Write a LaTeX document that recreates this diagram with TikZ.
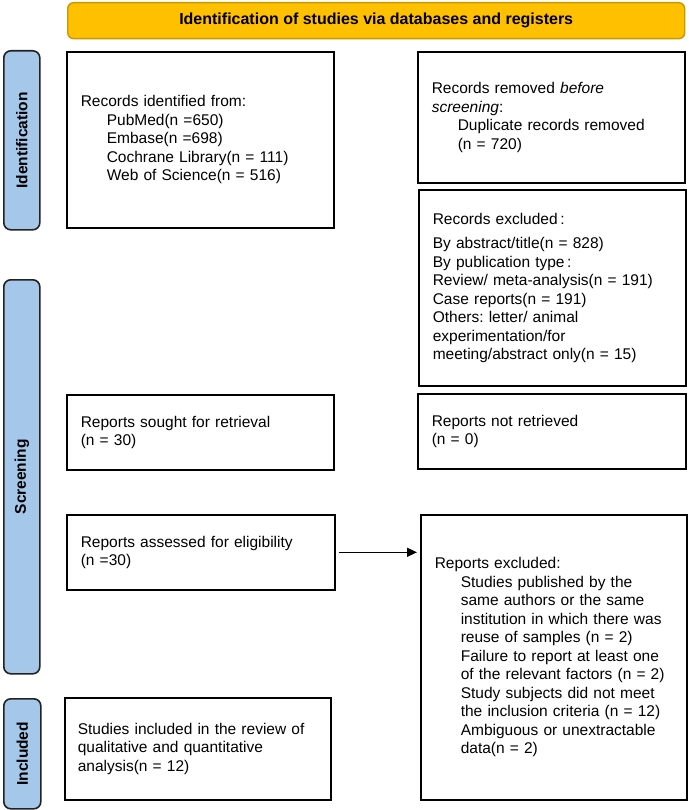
\documentclass[tikz,border=0pt]{standalone}
\usepackage{fontspec}
\setmainfont{Liberation Sans}
\usetikzlibrary{arrows.meta}
\definecolor{headfill}{HTML}{FFC000}
\definecolor{headline}{HTML}{C99700}
\definecolor{barfill}{HTML}{A4C7EA}
\definecolor{barline}{HTML}{222222}
\newcommand\ind{\hspace*{26pt}}
\frenchspacing
\tikzset{
  box/.style={draw=black, line width=1.6pt, inner sep=0pt, align=left, anchor=north west,
    font=\fontsize{15.5}{18.5}\selectfont},
  sidebar/.style={draw=barline, fill=barfill, line width=1.6pt, rounded corners=7pt, anchor=north west, inner sep=0pt},
  sidelab/.style={rotate=90, font=\bfseries\fontsize{15.5}{18}\selectfont},
  headbox/.style={draw=headline, fill=headfill, line width=1.4pt, rounded corners=6pt, anchor=north west, inner sep=0pt,
    font=\bfseries\fontsize{16}{19}\selectfont},
  arr/.style={line width=1.6pt, -{Triangle[length=10pt, width=9pt]}},
}
\begin{document}
\begin{tikzpicture}[x=1pt, y=-1pt]
\useasboundingbox (0,0) rectangle (688,810);
\node[headbox, minimum width=617, minimum height=36] (head) at (67,2) {Identification of studies via databases and registers};

\node[sidebar, minimum width=36, minimum height=179] (idbar) at (3,50) {};
\node[sidelab] (idlab) at (idbar.center) {Identification};
\node[sidebar, minimum width=36, minimum height=394] (scbar) at (3,279) {};
\node[sidelab] (sclab) at (scbar.center) {Screening};
\node[sidebar, minimum width=37, minimum height=110] (inbar) at (3,698) {};
\node[sidelab] (inlab) at (inbar.center) {Included};

\node[box, minimum width=267, minimum height=176, text width=239] (rid) at (66,51)
  {Records identified from:\\
   \ind PubMed(n =650)\\
   \ind Embase(n =698)\\
   \ind Cochrane Library(n = 111)\\
   \ind Web of Science(n = 516)};

\node[box, minimum width=267, minimum height=131, text width=239] (rrem) at (417,51)
  {Records removed \emph{before}\\
   \emph{screening}:\\
   \ind Duplicate records removed\\
   \ind (n = 720)};

\node[box, minimum width=267, minimum height=196, text width=239] (rexc) at (418,189)
  {Records excluded\,:\\[6pt]
   By abstract/title(n = 828)\\
   By publication type\,:\\
   Review/ meta-analysis(n = 191)\\
   Case reports(n = 191)\\
   Others: letter/ animal\\
   experimentation/for\\
   meeting/abstract only(n = 15)};

\node[box, minimum width=267, minimum height=75, text width=239] (rsou) at (66,394)
  {Reports sought for retrieval\\
   (n = 30)};

\node[box, minimum width=268, minimum height=75, text width=240] (rnot) at (417,393)
  {Reports not retrieved\\
   (n = 0)};

\node[box, minimum width=268, minimum height=75, text width=240] (rass) at (66,514)
  {Reports assessed for eligibility\\
   (n =30)};

\node[box, minimum width=266, minimum height=285, text width=238] (rep) at (420,514)
  {Reports excluded:\\
   \ind Studies published by the\\
   \ind same authors or the same\\
   \ind institution in which there was\\
   \ind reuse of samples (n = 2)\\
   \ind Failure to report at least one\\
   \ind of the relevant factors (n = 2)\\
   \ind Study subjects did not meet\\
   \ind the inclusion criteria (n = 12)\\
   \ind Ambiguous or unextractable\\
   \ind data(n = 2)};

\node[box, minimum width=266, minimum height=102, text width=240] (inc) at (64,697)
  {Studies included in the review of\\
   qualitative and quantitative\\
   analysis(n = 12)};

\draw[arr] ([xshift=3pt]rass.east) -- ([xshift=-3pt]rass.east -| rep.west);
\end{tikzpicture}
\end{document}
